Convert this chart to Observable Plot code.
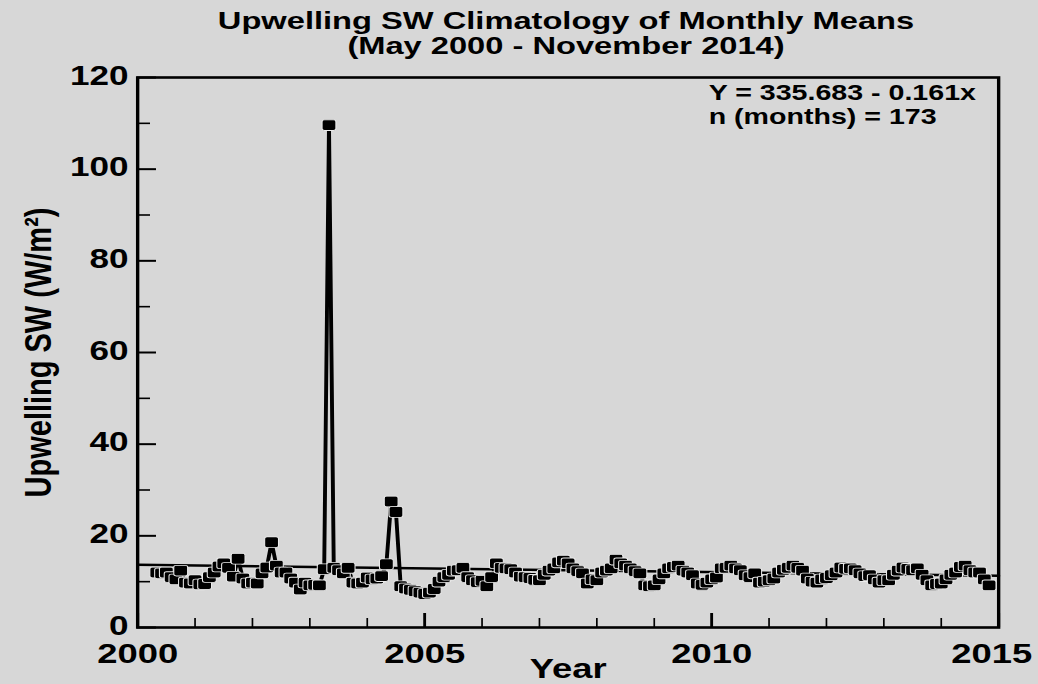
<!DOCTYPE html>
<html><head><meta charset="utf-8">
<script src="https://cdn.jsdelivr.net/npm/d3@7"></script>
<script src="https://cdn.jsdelivr.net/npm/@observablehq/plot@0.6"></script>
<style>
html,body{margin:0;padding:0;background:#d7d7d7;width:1038px;height:684px;overflow:hidden;}
.tl{position:absolute;left:566px;transform:translateX(-50%) scaleX(1.36);transform-origin:center;white-space:nowrap;text-align:center;font-family:"Liberation Sans",Arial,sans-serif;font-weight:bold;font-size:24px;line-height:24px;height:24px;color:#000;}
#t1{top:9px;}
#t2{top:34px;}
#chart{position:absolute;left:0;top:62px;}
</style></head><body>
<div class="tl" id="t1">Upwelling SW Climatology of Monthly Means</div>
<div class="tl" id="t2">(May 2000 - November 2014)</div>
<div id="chart"></div>
<script>
// ---- data (monthly means, W/m^2) ----
const firstYear = 2000, firstMonth = 5;
const sw2000 = [12.0, 11.8, 12.0, 11.0, 10.5, 12.4, 9.8, 9.6];               // May–Dec
const sw2001 = [10.3, 9.4, 9.5, 11.0, 12.0, 13.3, 14.0, 13.0, 11.1, 15.0, 10.7, 9.6];
const sw2002 = [9.8, 9.6, 11.8, 13.1, 18.6, 13.5, 12.0, 12.0, 10.7, 9.8, 8.3, 9.8];
const sw2003 = [9.2, 9.3, 9.2, 12.7, 109.6, 13.0, 12.5, 11.8, 13.0, 9.8, 9.6, 9.8];
const sw2004 = [10.9, 10.5, 10.7, 11.2, 13.8, 27.5, 25.2, 9.0, 8.5, 8.2, 7.9, 7.6];
const sw2005 = [7.3, 7.6, 8.4, 10.0, 11.0, 11.5, 12.4, 12.5, 13.0, 11.0, 10.3, 9.9];
const sw2006 = [10.2, 9.0, 11.0, 14.0, 13.0, 12.9, 12.7, 12.0, 11.1, 11.0, 10.8, 10.4];
const sw2007 = [10.3, 11.5, 12.4, 12.9, 14.2, 14.6, 14.0, 12.9, 12.3, 11.8, 9.6, 10.5];
const sw2008 = [10.3, 12.0, 12.4, 12.9, 14.8, 14.0, 13.5, 12.9, 12.3, 11.8, 9.2, 9.0];
const sw2009 = [9.2, 10.5, 11.8, 12.9, 13.2, 13.5, 12.4, 12.0, 11.4, 9.6, 9.3, 9.8];
const sw2010 = [10.5, 10.9, 12.9, 13.0, 13.5, 12.9, 12.5, 11.4, 11.0, 11.8, 9.8, 10.0];
const sw2011 = [10.3, 10.7, 12.0, 12.6, 13.0, 13.5, 13.0, 12.4, 10.7, 10.0, 9.8, 10.5];
const sw2012 = [10.8, 11.4, 12.0, 13.1, 12.8, 12.9, 12.5, 11.8, 11.2, 11.4, 10.5, 9.8];
const sw2013 = [10.3, 10.3, 11.5, 12.4, 13.1, 12.8, 12.5, 12.9, 11.5, 10.3, 9.2, 9.5];
const sw2014 = [9.6, 10.5, 11.5, 12.0, 13.2, 13.5, 12.5, 12.0, 12.0, 10.5, 9.2];   // Jan–Nov
const yearlySeries = [sw2000, sw2001, sw2002, sw2003, sw2004, sw2005, sw2006, sw2007,
                      sw2008, sw2009, sw2010, sw2011, sw2012, sw2013, sw2014];

// regression & annotation
const intercept = 335.683, slope = -0.161, nMonths = 173;
const trendYears = [2000, 2015];

// ticks
const yMajor = [0, 20, 40, 60, 80, 100, 120];
const yMinor = [10, 30, 50, 70, 90, 110];
const xMajor = [2000, 2005, 2010, 2015];
const xMinor = [2001, 2002, 2003, 2004, 2006, 2007, 2008, 2009, 2011, 2012, 2013, 2014];
const xLabelsInner = [2000, 2005, 2010];
const xLabelsLast = [2015];

const titleY = "Upwelling SW (W/m²)";
const titleX = "Year";

// ---- build table ----
const data = [];
yearlySeries.forEach((vals, yi) => {
  const m0 = yi === 0 ? firstMonth : 1;
  vals.forEach((v, k) => {
    if (v != null) data.push({t: firstYear + yi + (m0 - 1 + k) / 12, v});
  });
});
const trend = trendYears.map(t => ({t, v: intercept + slope * t}));
const annot1 = `Y = ${intercept.toFixed(3)} - ${(-slope).toFixed(3)}x`;
const annot2 = `n (months) = ${nMonths}`;
const xDomain = [2000, 2015], yDomain = [0, 120];

// rounded square marker
const roundSquare = {
  draw(ctx, size) {
    const w = Math.sqrt(size) / 2, r = w * 0.35;
    ctx.moveTo(-w + r, -w);
    ctx.arcTo(w, -w, w, w, r);
    ctx.arcTo(w, w, -w, w, r);
    ctx.arcTo(-w, w, -w, -w, r);
    ctx.arcTo(-w, -w, w, -w, r);
    ctx.closePath();
  }
};

const S = 1.3;            // horizontal stretch of the whole figure
const W = 1038, H = 622;
const W0 = W / S;
const font = "'Liberation Sans', Arial, sans-serif";

const svg = Plot.plot({
  width: W0, height: H,
  marginLeft: 137 / S, marginRight: 40 / S, marginTop: 15, marginBottom: 57,
  style: {fontFamily: font, background: "#d7d7d7", color: "black", overflow: "visible"},
  x: {domain: xDomain},
  y: {domain: yDomain},
  marks: [
    Plot.line(trend, {x: "t", y: "v", stroke: "black", strokeWidth: 2.5}),
    Plot.line(data, {x: "t", y: "v", stroke: "black", strokeWidth: 3}),
    Plot.dot(data, {x: "t", y: "v", symbol: roundSquare, r: 6, fill: "black", stroke: "#ececec", strokeWidth: 0.8}),
    Plot.frame({stroke: "black", strokeWidth: 2.6}),
    Plot.axisY(yMajor, {anchor: "left", tickSize: -14.6, fill: "none", label: null, strokeWidth: 2}),
    Plot.axisY(yMinor, {anchor: "left", tickSize: -10, fill: "none", label: null, strokeWidth: 1.6}),
    Plot.axisY(yMajor, {anchor: "left", tickSize: 0, tickPadding: 7, label: null, tickFormat: d => String(d),
      fontSize: 27, fontWeight: "bold", dy: -1.5}),
    Plot.axisX(xMajor, {anchor: "bottom", tickSize: -14, fill: "none", label: null, strokeWidth: 2.2}),
    Plot.axisX(xMinor, {anchor: "bottom", tickSize: -9, fill: "none", label: null, strokeWidth: 1.3}),
    Plot.axisX(xLabelsInner, {anchor: "bottom", tickSize: 0, tickPadding: 16, label: null, tickFormat: d => String(d),
      fontSize: 28, fontWeight: "bold"}),
    Plot.axisX(xLabelsLast, {anchor: "bottom", tickSize: 0, tickPadding: 16, label: null, tickFormat: d => String(d),
      fontSize: 28, fontWeight: "bold", dx: -7 / S}),
    Plot.text([titleX], {text: d => d, frameAnchor: "bottom", dy: 31, lineAnchor: "top", fontSize: 28, fontWeight: "bold"}),
    Plot.text([titleY], {text: d => d, x: () => xDomain[0], y: () => (yDomain[0] + yDomain[1]) / 2,
      rotate: -90, dx: -76, textAnchor: "middle", lineAnchor: "middle", fontSize: 29, fontWeight: "bold"}),
    Plot.text([annot1], {text: d => d, frameAnchor: "top-left", dx: (708 - 137) / S, dy: 7, textAnchor: "start",
      lineAnchor: "top", fontSize: 22, fontWeight: "bold"}),
    Plot.text([annot2], {text: d => d, frameAnchor: "top-left", dx: (708 - 137) / S, dy: 31, textAnchor: "start",
      lineAnchor: "top", fontSize: 22, fontWeight: "bold"})
  ]
});
svg.setAttribute("width", W);
svg.setAttribute("height", H);
svg.setAttribute("preserveAspectRatio", "none");
svg.style.width = W + "px";
svg.style.height = H + "px";
svg.style.maxWidth = "none";
document.getElementById("chart").appendChild(svg);
</script>
</body></html>
